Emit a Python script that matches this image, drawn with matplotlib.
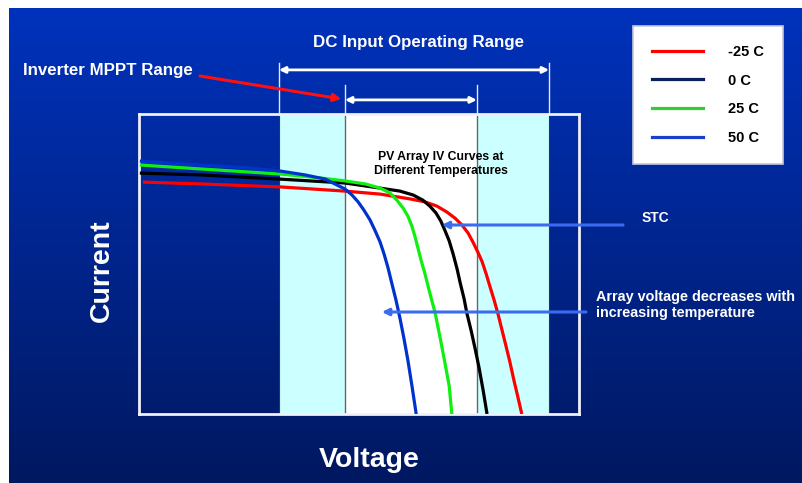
import numpy as np
import matplotlib
matplotlib.use("Agg")
import matplotlib.pyplot as plt
from matplotlib.lines import Line2D
from matplotlib.transforms import blended_transform_factory

plt.rcParams['font.family'] = ['Liberation Sans', 'DejaVu Sans']
plt.rcParams['font.weight'] = 'bold'

# IV curves (voltage / current in arbitrary 0-100 units)
v_m25 = [0.9, 13.9, 32.0, 46.8, 54.8, 61.6, 65.0, 67.7, 70.0, 71.8, 73.4, 74.8, 75.9,
         77.0, 78.0, 78.9, 79.8, 80.7, 81.6, 82.5, 83.4, 84.3, 85.2, 86.1, 87.0]
i_m25 = [77.3, 76.7, 75.7, 74.3, 73.3, 71.7, 70.7, 69.3, 67.3, 65.3, 63.0, 60.3, 57.3,
         54.0, 50.7, 46.7, 42.3, 38.0, 33.3, 28.0, 22.7, 17.3, 11.3, 5.7, 0.0]
v_0 = [0.2, 13.9, 32.0, 46.8, 54.8, 59.3, 62.3, 64.5, 66.1, 67.5, 68.6, 69.5, 70.5,
       71.4, 72.3, 73.0, 73.9, 74.5, 75.5, 76.4, 77.3, 78.2, 79.1]
i_0 = [80.3, 79.7, 78.3, 77.0, 75.3, 74.3, 73.0, 71.3, 69.3, 67.0, 64.3, 61.3, 57.7,
       53.3, 48.3, 43.7, 38.3, 33.7, 27.7, 21.7, 15.3, 8.0, 0.0]
v_25 = [0.2, 13.9, 32.0, 41.1, 46.8, 51.4, 54.8, 57.0, 58.6, 60.0, 61.1, 62.0, 62.7,
        63.4, 64.1, 65.0, 66.1, 67.3, 68.4, 69.5, 70.5, 71.1]
i_25 = [83.0, 81.7, 80.0, 78.7, 77.7, 76.7, 75.3, 73.7, 71.3, 68.7, 66.0, 62.7, 59.3,
        55.3, 51.3, 46.7, 40.3, 33.7, 25.7, 17.3, 9.3, 0.0]
v_50 = [0.2, 13.9, 25.2, 32.0, 37.7, 42.3, 44.5, 46.8, 48.4, 49.8, 51.1, 52.5, 53.6,
        54.8, 55.7, 56.6, 57.5, 58.4, 59.3, 60.2, 61.1, 62.0, 63.0]
i_50 = [84.3, 83.0, 82.0, 81.0, 79.7, 78.3, 76.7, 75.0, 73.0, 70.7, 68.0, 64.7, 61.3,
        57.3, 53.3, 48.7, 43.3, 38.0, 32.0, 25.3, 18.0, 9.7, 0.0]

temps = ["-25 C", "0 C", "25 C", "50 C"]
curve_colors = ["#ff0000", "#000000", "#11ee11", "#0033cc"]
legend_colors = ["#ff0000", "#0a1f5c", "#33cc33", "#1a3fcc"]

dc_range = (31.8, 93.2)     # DC input operating range
mppt_range = (46.8, 76.8)   # inverter MPPT range

W, H = 803, 483
fig = plt.figure(figsize=(W / 100, H / 100), dpi=100)
fig.patch.set_facecolor("white")

# background gradient (pixel coordinates)
bg = fig.add_axes([0, 0, 1, 1], zorder=0)
bg.set_xlim(0, W); bg.set_ylim(H, 0); bg.axis("off")
top = np.array([0x00, 0x32, 0xbc]) / 255
bot = np.array([0x00, 0x18, 0x60]) / 255
t = np.linspace(0, 1, 256)[:, None]
grad = (top * (1 - t) + bot * t)[:, None, :]
bg.imshow(grad, extent=[9, W, H, 8], aspect="auto", interpolation="bilinear")

# main chart
ax = fig.add_axes([139 / W, 1 - 414 / H, 440 / W, 300 / H], zorder=2)
ax.set_facecolor("none")
ax.set_xlim(0, 100); ax.set_ylim(0, 100)
ax.set_xticks([]); ax.set_yticks([])
for s in ax.spines.values():
    s.set_color("#f0f0f8"); s.set_linewidth(2)

ax.axvspan(dc_range[0], mppt_range[0], color="#ccffff", lw=0, zorder=0)
ax.axvspan(mppt_range[0], mppt_range[1], color="white", lw=0, zorder=0)
ax.axvspan(mppt_range[1], dc_range[1], color="#ccffff", lw=0, zorder=0)
for x in dc_range:
    ax.axvline(x, color="#334", lw=0.8, zorder=1)
for x in mppt_range:
    ax.axvline(x, color="#666666", lw=1.0, zorder=1)

for v, i, c in zip([v_m25, v_0, v_25, v_50], [i_m25, i_0, i_25, i_50], curve_colors):
    ax.plot(v, i, color=c, lw=2.3, solid_capstyle="butt", solid_joinstyle="round", zorder=3)

ax.text(68.6, 83.3, "PV Array IV Curves at\nDifferent Temperatures",
        ha="center", va="center", fontsize=8.8, color="black", linespacing=1.15, zorder=4)

# range dimension arrows above the chart
trans = blended_transform_factory(ax.transData, ax.transAxes)
for x in dc_range:
    ax.plot([x, x], [1.0, 1.17], transform=trans, color="#e8e8f0", lw=1, clip_on=False)
for x in mppt_range:
    ax.plot([x, x], [1.0, 1.097], transform=trans, color="#e8e8f0", lw=1, clip_on=False)
arr = dict(arrowstyle="<|-|>", color="white", lw=2, mutation_scale=9, shrinkA=0, shrinkB=0)
ax.annotate("", xy=(dc_range[1], 1.147), xytext=(dc_range[0], 1.147),
            xycoords=trans, textcoords=trans, arrowprops=arr, annotation_clip=False)
ax.annotate("", xy=(mppt_range[1], 1.047), xytext=(mppt_range[0], 1.047),
            xycoords=trans, textcoords=trans, arrowprops=arr, annotation_clip=False)

# red pointer to MPPT range
ax.annotate("", xy=(mppt_range[0] - 0.8, 1.05), xytext=(200, 76),
            xycoords=trans, textcoords=bg.transData,
            arrowprops=dict(arrowstyle="-|>", color="#ff1010", lw=2.2, mutation_scale=11,
                            shrinkA=0, shrinkB=0), annotation_clip=False)

# blue pointers
blue_arr = dict(arrowstyle="-|>", color="#3a6cf0", lw=2.2, mutation_scale=10, shrinkA=0, shrinkB=0)
ax.annotate("", xy=(68.8, 63.0), xytext=(110.0, 63.0), arrowprops=blue_arr, annotation_clip=False)
ax.annotate("", xy=(55.2, 34.0), xytext=(101.6, 34.0), arrowprops=blue_arr, annotation_clip=False)

# texts
bg.text(419, 42, "DC Input Operating Range", ha="center", va="center", fontsize=12.2, color="white")
bg.text(23, 70, "Inverter MPPT Range", ha="left", va="center", fontsize=12.2, color="white")
bg.text(642, 218, "STC", ha="left", va="center", fontsize=10, color="white")
bg.text(596, 305, "Array voltage decreases with\nincreasing temperature", ha="left", va="center",
        fontsize=10.4, color="white", linespacing=1.2)
bg.text(102, 271, "Current", ha="center", va="center", rotation=90, fontsize=20.5, color="white")
bg.text(369, 460, "Voltage", ha="center", va="center", fontsize=20.5, color="white")

# legend
handles = [Line2D([], [], color=c, lw=2.3) for c in legend_colors]
leg = ax.legend(handles, temps, loc="upper left", bbox_to_anchor=(633 / W, 1 - 26 / H),
                bbox_transform=fig.transFigure, borderaxespad=0, frameon=True, fancybox=False,
                handlelength=3.5, handletextpad=1.7, labelspacing=1.0,
                borderpad=1.3, prop={"weight": "bold", "size": 10.5})
leg.get_frame().set_edgecolor("#c8c8d8")
leg.get_frame().set_linewidth(1.2)
leg.get_frame().set_facecolor("white")
leg.get_frame().set_alpha(1)

fig.savefig("out.png", dpi=100)
